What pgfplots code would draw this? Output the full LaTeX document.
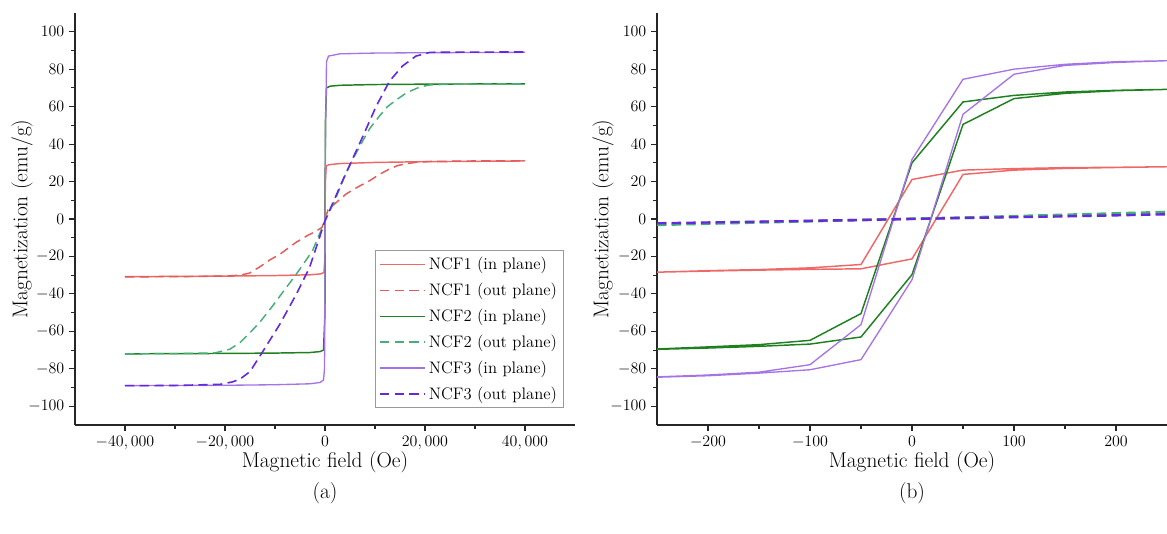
\documentclass[border=0pt]{standalone}
\usepackage{pgfplots}
\pgfplotsset{compat=1.18}

\definecolor{redin}{RGB}{238,104,104}
\definecolor{redout}{RGB}{226,92,92}
\definecolor{grnin}{RGB}{30,128,30}
\definecolor{grnout}{RGB}{70,175,120}
\definecolor{purin}{RGB}{165,115,228}
\definecolor{purout}{RGB}{98,42,220}

\pgfplotsset{
  magbase/.style={
    scale only axis, height=309pt,
    axis lines*=left,
    axis line style={-, line width=0.9pt, black!85},
    tick align=outside,
    major tick length=4.5pt, minor tick length=3pt,
    tick style={line width=0.8pt, black!85},
    ymin=-110, ymax=110,
    ytick={-100,-80,...,100}, minor y tick num=1,
    tick label style={font=\fontsize{11.5}{13}\selectfont},
    label style={font=\fontsize{16}{19}\selectfont},
    xlabel={Magnetic field (Oe)},
    ylabel={Magnetization (emu/g)},
    xlabel style={at={(axis description cs:0.5,-0.09)}, anchor=center},
    anchor=south west,
    clip mode=individual,
  },
  inA/.style={redin, line width=1.1pt},
  outA/.style={redout, line width=1.1pt, dash pattern=on 7pt off 4pt},
  inB/.style={grnin, line width=1.1pt},
  outB/.style={grnout, line width=1.1pt, dash pattern=on 7pt off 4pt},
  inC/.style={purin, line width=1.0pt},
  outC/.style={purout, line width=1.2pt, dash pattern=on 7pt off 4pt},
}

\begin{document}
\begin{tikzpicture}
\path[use as bounding box] (-56.25pt,-81.75pt) rectangle (819pt,318.75pt);

% ---------------- (a) full field range ----------------
\begin{axis}[
  magbase, at={(0pt,0pt)}, width=375pt,
  xmin=-50000, xmax=50000,
  xtick={-40000,-20000,0,20000,40000}, minor x tick num=1,
  scaled x ticks=false,
  xticklabel style={/pgf/number format/1000 sep={,}},
  ylabel style={at={(axis description cs:-0.106,0.5)}, anchor=center},
  legend style={at={(axis description cs:0.978,0.041)}, anchor=south east,
    draw=black!40, line width=0.6pt, font=\fontsize{12.5}{15}\selectfont,
    row sep=4.5pt, inner sep=3pt},
  legend cell align=left,
  legend image code/.code={\draw[#1] (0pt,0pt) -- (34pt,0pt);},
]
\addplot[inA] coordinates {
  (-40000,-30.8) (-20000,-30.5) (-10000,-30.2) (-3000,-29.8) (-800,-29.3)
  (-200,-28.5) (0,-20) (30,0) (60,20) (250,28.3) (800,29.0) (3000,29.6)
  (10000,30.2) (20000,30.6) (40000,31.0)};
\addlegendentry{NCF1 (in plane)}
\addplot[outA] coordinates {
  (-40000,-30.9) (-30000,-30.8) (-20000,-30.5) (-17000,-30.0) (-15100,-28.9)
  (-13000,-25.5) (-11000,-21.8) (-9000,-18.8) (-5800,-12.5) (-3500,-8.8)
  (-2000,-6.8) (-600,-4.5) (0,0) (600,4.8) (2000,8.2) (4200,13.3) (6500,17.0)
  (8900,20.4) (11000,24.0) (12900,26.7) (14500,28.5) (16200,29.5)
  (18000,30.2) (20900,30.7) (30000,31.0) (40000,31.1)};
\addlegendentry{NCF1 (out plane)}
\addplot[inB] coordinates {
  (-40000,-72.0) (-20000,-71.8) (-10000,-71.6) (-3000,-71.3) (-1000,-70.8)
  (-300,-70.0) (0,-50) (30,0) (60,50) (300,70.0) (1000,70.9) (3000,71.4)
  (10000,71.8) (20000,72.0) (40000,72.2)};
\addlegendentry{NCF2 (in plane)}
\addplot[outB] coordinates {
  (-40000,-72.0) (-30000,-71.9) (-22000,-71.5) (-19000,-69.5) (-17000,-66.0)
  (-15100,-61.0) (-13000,-55.0) (-10500,-46.5) (-8000,-37.5) (-5800,-29.7)
  (-2500,-17.0) (0,-1.0) (2000,10.0) (4200,24.5) (6000,34.0) (7500,41.5)
  (9000,48.5) (10900,55.0) (12500,60.0) (14200,63.5) (16000,66.8)
  (17500,68.8) (19000,70.5) (21000,71.6) (25000,72.0) (40000,72.2)};
\addlegendentry{NCF2 (out plane)}
\addplot[inC] coordinates {
  (-40000,-89.0) (-20000,-88.8) (-10000,-88.5) (-3000,-88.0) (-1000,-87.3)
  (-300,-86.0) (-100,-80.0) (0,-40.0) (30,0) (100,40.0) (300,84.0)
  (700,87.0) (3000,88.2) (10000,88.6) (20000,88.8) (40000,89.0)};
\addlegendentry{NCF3 (in plane)}
\addplot[outC] coordinates {
  (-40000,-89.0) (-30000,-88.9) (-21000,-88.3) (-18500,-87.0) (-17000,-85.5)
  (-15000,-81.5) (-12500,-71.0) (-9100,-56.5) (-5800,-40.5) (-3100,-26.0)
  (0,-1.0) (3500,20.4) (7500,43.7) (10200,60.0) (12900,73.6) (15500,81.7)
  (18200,87.0) (21000,89.0) (30000,89.1) (40000,89.2)};
\addlegendentry{NCF3 (out plane)}
\node[font=\fontsize{16}{19}\selectfont] at (axis description cs:0.5,-0.165) {(a)};
\end{axis}

% ---------------- (b) low field zoom ----------------
\begin{axis}[
  magbase, at={(436.5pt,0pt)}, width=382.5pt,
  xmin=-250, xmax=250,
  xtick={-200,-100,0,100,200}, minor x tick num=1,
  ylabel style={at={(axis description cs:-0.106,0.5)}, anchor=center},
]
\addplot[inA] coordinates {
  (-250,-28.4) (-200,-27.8) (-150,-27.3) (-100,-26.9) (-50,-26.6) (0,-21.3)
  (50,23.8) (100,26.1) (150,27.0) (200,27.5) (250,27.9)
  (200,27.6) (150,27.4) (100,26.9) (50,26.1) (0,21.1) (-50,-24.3)
  (-100,-26.1) (-150,-27.0) (-200,-27.6) (-250,-28.4)};
\addplot[outA, line width=1.8pt] coordinates {
  (-250,-2.6) (-150,-1.6) (-50,-0.5) (0,0.1) (50,0.6) (150,1.8) (250,3.0)};
\addplot[inB] coordinates {
  (-250,-69.6) (-200,-68.9) (-150,-68.0) (-100,-66.8) (-50,-63.0) (0,-29.7)
  (50,50.5) (100,64.3) (150,67.1) (200,68.5) (250,69.2)
  (200,68.7) (150,67.8) (100,66.0) (50,62.5) (0,30.0) (-50,-50.5)
  (-100,-64.8) (-150,-67.1) (-200,-68.3) (-250,-69.4)};
\addplot[outB, line width=1.8pt] coordinates {
  (-250,-3.2) (-150,-1.9) (-50,-0.6) (0,0.2) (50,0.8) (150,2.3) (250,3.8)};
\addplot[inC] coordinates {
  (-250,-84.5) (-200,-83.7) (-150,-82.3) (-100,-80.5) (-50,-75.1) (0,-32.4)
  (50,55.9) (100,77.3) (150,82.0) (200,83.6) (250,84.5)
  (200,84.0) (150,82.6) (100,80.0) (50,74.6) (0,31.8) (-50,-56.4)
  (-100,-77.8) (-150,-81.8) (-200,-83.3) (-250,-84.3)};
\addplot[outC, line width=1.8pt] coordinates {
  (-250,-2.3) (-150,-1.4) (-50,-0.5) (0,0.0) (50,0.5) (150,1.4) (250,2.5)};
\node[font=\fontsize{16}{19}\selectfont] at (axis description cs:0.5,-0.165) {(b)};
\end{axis}
\end{tikzpicture}
\end{document}
